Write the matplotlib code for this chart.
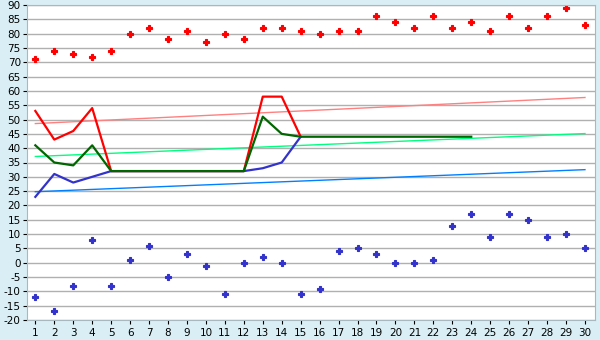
import matplotlib.pyplot as plt
import numpy as np

plt.rcParams['axes.unicode_minus'] = False

days = np.arange(1, 31)

high_pts = [71, 74, 73, 72, 74, 80, 82, 78, 81, 77, 80, 78, 82, 82, 81,
            80, 81, 81, 86, 84, 82, 86, 82, 84, 81, 86, 82, 86, 89, 83]
low_pts = [-12, -17, -8, 8, -8, 1, 6, -5, 3, -1, -11, 0, 2, 0, -11,
           -9, 4, 5, 3, 0, 0, 1, 13, 17, 9, 17, 15, 9, 10, 5]

# lines
red_x = np.arange(1, 16)
red_line = [53, 43, 46, 54, 32, 32, 32, 32, 32, 32, 32, 32, 58, 58, 44]
blue_x = np.arange(1, 16)
blue_line = [23, 31, 28, 30, 32, 32, 32, 32, 32, 32, 32, 32, 33, 35, 44]
green_x = np.arange(1, 25)
green_line = [41, 35, 34, 41, 32, 32, 32, 32, 32, 32, 32, 32, 51, 45, 44,
              44, 44, 44, 44, 44, 44, 44, 44, 44]

# trend lines (start / end values)
trend_x = [1, 30]
red_trend = [48.6, 57.7]
green_trend = [37.1, 45.1]
blue_trend = [24.8, 32.5]

bg = '#d9eff5'
fig = plt.figure(figsize=(6, 3.4), dpi=100, facecolor=bg)
ax = fig.add_axes([27 / 600, 20 / 340, 568 / 600, 315 / 340])
ax.set_facecolor('white')

ax.set_ylim(-20, 90)
ax.set_xlim(0.56, 30.53)
ax.set_yticks(np.arange(-20, 91, 5))
ax.set_xticks(days)
ax.yaxis.grid(True, color='#b0b0b0', linewidth=1)
ax.set_axisbelow(True)

ax.plot(trend_x, red_trend, color='#ff8080', lw=1)
ax.plot(trend_x, green_trend, color='#00ff80', lw=1)
ax.plot(trend_x, blue_trend, color='#0080ff', lw=1)

ax.plot(red_x, red_line, color='#ff0000', lw=1.6)
ax.plot(blue_x, blue_line, color='#3333cc', lw=1.6)
ax.plot(green_x, green_line, color='#006600', lw=1.6)

ax.plot(days, high_pts, 'P', color='#ff0000', ms=5, mew=0.8, ls='none')
ax.plot(days, low_pts, 'P', color='#3333cc', ms=4.5, mew=0.8, ls='none')

for s in ax.spines.values():
    s.set_color('#a8b8c0')
ax.tick_params(axis='both', labelsize=7.5, length=3, color='black', pad=1.5)
ax.tick_params(axis='x', pad=3)

plt.savefig('out.png', dpi=100, facecolor=bg)
